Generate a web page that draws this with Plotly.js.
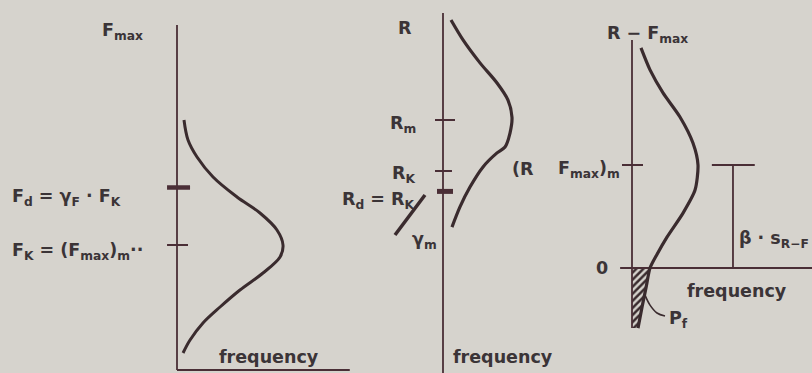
<!DOCTYPE html>
<html>
<head>
<meta charset="utf-8">
<script src="https://cdn.plot.ly/plotly-3.0.1.min.js"></script>
<style>
  html, body { margin: 0; padding: 0; background: #d6d3cd; }
  #chart { width: 812px; height: 373px; }
</style>
</head>
<body>
<div id="chart"></div>
<script>
// ---- Load effect F_max: relative frequency vs. load value ----
const loadFreq = [0.066, 0.104, 0.189, 0.340, 0.566, 0.783, 0.943, 1.000, 0.972, 0.811, 0.594, 0.406, 0.245, 0.123, 0.057];
const loadVal  = [10.00, 9.20, 8.52, 7.72, 6.92, 6.28, 5.60, 5.00, 4.52, 3.88, 3.20, 2.52, 1.88, 1.20, 0.68];
const loadChar   = 5.0;   // F_K = (F_max)_m
const loadDesign = 7.3;   // F_d = γ_F · F_K
const loadAxisTop = 13.8;
const loadAxisFreq = 1.63;

// ---- Resistance R ----
const resFreq = [0.116, 0.290, 0.536, 0.783, 0.942, 1.000, 0.971, 0.899, 0.783, 0.580, 0.391, 0.246, 0.130];
const resVal  = [13.92, 13.14, 12.24, 11.45, 10.78, 10.10, 9.49, 8.94, 8.71, 8.16, 7.37, 6.59, 5.80];
const resMean   = 10.0;   // R_m
const resChar   = 8.0;    // R_K
const resDesign = 7.2;    // R_d = R_K / γ_m
const resAxisTop = 14.2;

// ---- Safety margin R − F_max ----
const marFreq = [0.136, 0.273, 0.470, 0.727, 0.924, 1.000, 0.955, 0.773, 0.530, 0.380, 0.273, 0.215, 0.152, 0.091];
const marVal  = [6.41, 5.77, 5.10, 4.40, 3.64, 3.00, 2.27, 1.60, 0.90, 0.40, 0.00, -0.55, -1.14, -1.75];
const marMean = 3.0;      // (R − F_max)_m
const marAxisTop = 6.64;
const marAxisBottom = -1.75;
const marAxisFreq = [-0.18, 2.73];
const betaFreq = 1.53;    // position of the β·s bracket along the frequency axis
const betaCap  = [1.21, 1.86];

// ---- styling ----
const INK  = '#3a2b2e';
const AXIS = '#4a2e36';
const TEXT = '#3b3437';
const FONT = 'DejaVu Sans';
const FS = 17.5;

// each diagram gets its own axis pair; origin pixel + pixel-per-unit scale
const W = 812, H = 373;
function ranges(ox, oy, sx, sy) {
  return {
    x: [-ox / sx, (W - ox) / sx],
    y: [(oy - H) / sy, oy / sy]
  };
}
const p1 = ranges(177, 370, 106, 25);
const p2 = ranges(443, 375, 69, 25.5);
const p3 = ranges(632, 268, 66, 34.33);

function seg(xs, ys, ax, width, color, shape, smooth) {
  return {
    type: 'scatter', mode: 'lines', x: xs, y: ys,
    xaxis: 'x' + ax, yaxis: 'y' + ax,
    line: { color: color || AXIS, width: width || 1.8, shape: shape || 'linear', smoothing: smooth || 1.0 },
    hoverinfo: 'skip', showlegend: false
  };
}

// failure region P_f: part of the margin curve below zero, closed along the axis
const pfX = [0], pfY = [0];
marVal.forEach((v, i) => { if (v <= 0) { pfX.push(marFreq[i]); pfY.push(v); } });
pfX.push(0); pfY.push(marVal[marVal.length - 1]);

const traces = [
  // diagram 1 : load
  seg([0, 0], [0, loadAxisTop], '', 1.8),
  seg([0, loadAxisFreq], [0, 0], '', 1.8),
  seg([-0.094, 0.104], [loadChar, loadChar], '', 2),
  seg([-0.094, 0.123], [loadDesign, loadDesign], '', 4.5),
  seg(loadFreq, loadVal, '', 3, INK, 'spline'),

  // diagram 2 : resistance
  seg([0, 0], [0, resAxisTop], '2', 1.8),
  seg([-0.116, 0.174], [resMean, resMean], '2', 2),
  seg([-0.116, 0.130], [resChar, resChar], '2', 2),
  seg([-0.087, 0.145], [resDesign, resDesign], '2', 5),
  seg(resFreq, resVal, '2', 3.2, INK, 'spline', 0.8),
  seg([-0.696, -0.261], [5.49, 7.06], '2', 3.5, INK),

  // diagram 3 : safety margin
  {
    type: 'scatter', mode: 'lines', x: pfX, y: pfY, xaxis: 'x3', yaxis: 'y3',
    fill: 'toself', fillcolor: 'rgba(0,0,0,0)',
    fillpattern: { shape: '/', fgcolor: INK, bgcolor: 'rgba(0,0,0,0)', size: 5, solidity: 0.5 },
    line: { width: 0 }, hoverinfo: 'skip', showlegend: false
  },
  seg([0, 0], [marAxisBottom, marAxisTop], '3', 1.8),
  seg(marAxisFreq, [0, 0], '3', 1.8),
  seg([-0.152, 0.167], [marMean, marMean], '3', 2),
  seg(marFreq, marVal, '3', 3.2, INK, 'spline', 0.7),
  seg(betaCap, [marMean, marMean], '3', 2.2),
  seg([betaFreq, betaFreq], [0, marMean], '3', 1.8),
  seg([0.197, 0.273, 0.379, 0.50], [-0.79, -1.08, -1.31, -1.40], '3', 1.6, INK, 'spline')
];

function lab(text, x, y, ax, xanchor, opts) {
  return Object.assign({
    text: '<b>' + text + '</b>', x: x, y: y, xref: 'x' + ax, yref: 'y' + ax,
    xanchor: xanchor || 'center', yanchor: 'middle', showarrow: false,
    font: { family: FONT, size: FS, color: TEXT }
  }, opts || {});
}

const annotations = [
  lab('F<sub>max</sub>', -0.726, 13.56, '', 'left'),
  lab('F<sub>d</sub> = γ<sub>F</sub> · F<sub>K</sub>', -1.575, loadDesign, '', 'left', { yshift: -10 }),
  lab('F<sub>K</sub> = (F<sub>max</sub>)<sub>m</sub>··', -1.575, loadChar, '', 'left', { yshift: -6 }),
  lab('frequency', 0.868, 0.52, '', 'center'),

  lab('R', -0.551, 13.6, '2', 'center'),
  lab('R<sub>m</sub>', -0.362, resMean, '2', 'right', { yshift: -4 }),
  lab('R<sub>K</sub>', -0.377, resChar, '2', 'right', { yshift: -3 }),
  lab('R<sub>d</sub> = R<sub>K</sub>', -0.377, resDesign, '2', 'right', { yshift: -9 }),
  lab('γ<sub>m</sub>', -0.478, 5.29, '2', 'left'),
  lab('(R', 0.971, 8.08, '2', 'left'),
  lab('frequency', 0.87, 0.71, '2', 'center'),

  lab('R − F<sub>max</sub>', -0.409, 6.79, '3', 'left'),
  lab('F<sub>max</sub>)<sub>m</sub>', -0.152, marMean, '3', 'right', { yshift: -4 }),
  lab('0', -0.333, 0, '3', 'right'),
  lab('β · s<sub>R−F</sub>', 1.59, 0.82, '3', 'left'),
  lab('frequency', 1.59, -0.67, '3', 'center'),
  lab('P<sub>f</sub>', 0.53, -1.51, '3', 'left')
];

function axis(range, anchor) {
  return { range: range, visible: false, fixedrange: true, anchor: anchor, domain: [0, 1] };
}

const layout = {
  width: W, height: H,
  margin: { l: 0, r: 0, t: 0, b: 0, pad: 0 },
  paper_bgcolor: '#d6d3cd',
  plot_bgcolor: 'rgba(0,0,0,0)',
  showlegend: false,
  xaxis: axis(p1.x, 'y'),  yaxis: axis(p1.y, 'x'),
  xaxis2: axis(p2.x, 'y2'), yaxis2: axis(p2.y, 'x2'),
  xaxis3: axis(p3.x, 'y3'), yaxis3: axis(p3.y, 'x3'),
  annotations: annotations
};

Plotly.newPlot('chart', traces, layout, { displayModeBar: false, staticPlot: true });
</script>
</body>
</html>
